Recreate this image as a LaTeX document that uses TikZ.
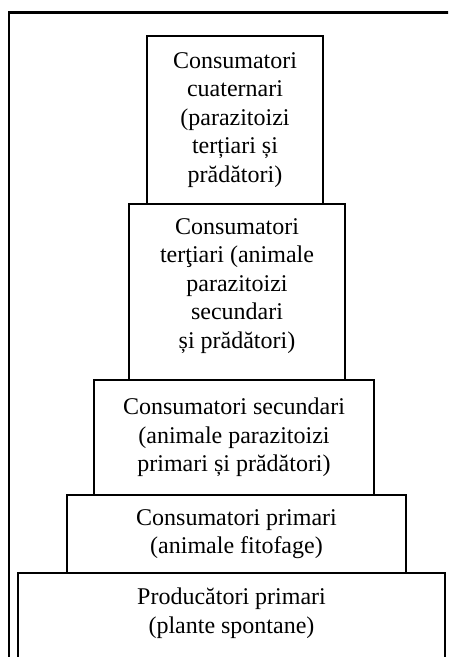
\documentclass[tikz,border=0pt]{standalone}
\usepackage{fontspec}
\setmainfont{Liberation Serif}
\begin{document}
\begin{tikzpicture}[x=1pt,y=-1pt,
  level/.style={draw, line width=2.6pt, rectangle, inner sep=0pt, align=center,
    font=\fontsize{24}{28.5}\selectfont},
  label/.style={inner sep=0pt, align=center, font=\fontsize{24}{28.5}\selectfont}]
\useasboundingbox (0,0) rectangle (448,657);
\clip (0,0) rectangle (448,657);
% outer frame
\draw[line width=2.6pt] (9,12.5) rectangle (470,700);
% pyramid levels, top to bottom
\node[level, minimum width=176pt, minimum height=168pt] (quat) at (235,120)
  {Consumatori\\cuaternari\\(parazitoizi\\terțiari și\\prădători)};
\node[level, minimum width=216pt, minimum height=176pt] (tert) at (237,292) {};
\node[label] (terttext) at (237,286)
  {Consumatori\\terţiari (animale\\parazitoizi\\secundari\\și prădători)};
\node[level, minimum width=280pt, minimum height=115pt] (sec) at (234,437.5)
  {Consumatori secundari\\(animale parazitoizi\\primari și prădători)};
\node[level, minimum width=339pt, minimum height=78pt] (prim) at (236.5,534)
  {Consumatori primari\\(animale fitofage)};
\node[level, minimum width=427pt, minimum height=140pt] (prod) at (231.5,643) {};
\node[label] (prodtext) at (231.5,613)
  {Producători primari\\(plante spontane)};
\end{tikzpicture}
\end{document}
